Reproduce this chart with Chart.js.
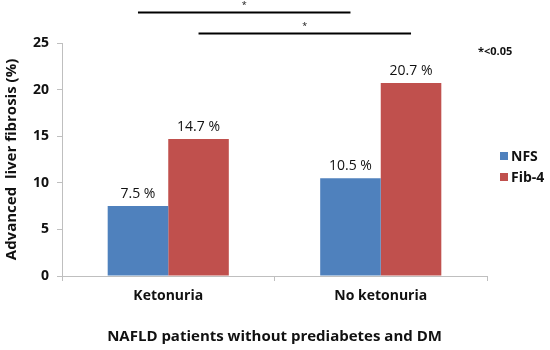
<!DOCTYPE html>
<html>
<head>
<meta charset="utf-8">
<script src="https://cdn.jsdelivr.net/npm/chart.js@4.4.0/dist/chart.umd.min.js"></script>
<style>
  body { margin: 0; background: #fff; }
  #wrap { width: 550px; height: 350px; }
</style>
</head>
<body>
<div id="wrap"><canvas id="grafico" width="550" height="350"></canvas></div>
<script>
const categorias = ["Ketonuria", "No ketonuria"];
const nfs = [7.5, 10.5];
const fib4 = [14.7, 20.7];
const seriesNomes = ["NFS", "Fib-4"];
const coresSeries = ["#4f81bd", "#c0504d"];
const yTicks = [0, 5, 10, 15, 20, 25];
// comparacoes significativas entre as duas categorias, altura em unidades do eixo
const comparacoes = [
  { serie: 0, nivel: 28.3 },
  { serie: 1, nivel: 26.05 }
];

const fonte = "'Open Sans', 'Noto Sans', sans-serif";

const rotulosPlugin = {
  id: "rotulos",
  afterDatasetsDraw(chart) {
    const ctx = chart.ctx;
    ctx.save();
    ctx.fillStyle = "#111";
    ctx.font = "14px " + fonte;
    ctx.textAlign = "center";
    ctx.textBaseline = "bottom";
    chart.data.datasets.forEach((ds, i) => {
      chart.getDatasetMeta(i).data.forEach((bar, j) => {
        ctx.fillText(ds.data[j].toFixed(1) + " %", bar.x, bar.y - 5);
      });
    });

    // linhas de significancia
    const y = chart.scales.y;
    ctx.strokeStyle = "#000";
    ctx.lineWidth = 2;
    comparacoes.forEach(c => {
      const barras = chart.getDatasetMeta(c.serie).data;
      const py = Math.round(y.getPixelForValue(c.nivel)) + 0.5;
      ctx.beginPath();
      ctx.moveTo(barras[0].x, py);
      ctx.lineTo(barras[1].x, py);
      ctx.stroke();
      ctx.font = "9px " + fonte;
      ctx.textBaseline = "middle";
      ctx.fillText("*", (barras[0].x + barras[1].x) / 2, py - 7);
    });

    // nota p-valor
    ctx.font = "bold 11px " + fonte;
    ctx.textAlign = "left";
    ctx.fillText("*<0.05", 478, 52);

    // legenda
    const area = chart.chartArea;
    ctx.font = "bold 14px " + fonte;
    seriesNomes.forEach((nome, i) => {
      const cy = 156 + i * 21;
      ctx.fillStyle = coresSeries[i];
      ctx.fillRect(area.right + 13, cy - 4, 8, 8);
      ctx.fillStyle = "#111";
      ctx.fillText(nome, area.right + 24, cy + 1);
    });
    ctx.restore();
  }
};

new Chart(document.getElementById("grafico"), {
  type: "bar",
  data: {
    labels: categorias,
    datasets: [
      { label: seriesNomes[0], data: nfs, backgroundColor: coresSeries[0] },
      { label: seriesNomes[1], data: fib4, backgroundColor: coresSeries[1] }
    ]
  },
  options: {
    responsive: false,
    animation: false,
    layout: { padding: { top: 43, right: 63, left: 0, bottom: 0 } },
    datasets: { bar: { barPercentage: 1, categoryPercentage: 0.57 } },
    plugins: { legend: { display: false }, tooltip: { enabled: false } },
    scales: {
      x: {
        grid: { drawOnChartArea: false, tickLength: 5, color: "#bfbfbf" },
        border: { color: "#bfbfbf" },
        ticks: { color: "#111", font: { family: fonte, size: 14, weight: "bold" }, padding: 7 },
        title: { display: true, text: "NAFLD patients without prediabetes and DM", color: "#111",
                 font: { family: fonte, size: 15, weight: "bold" }, padding: { top: 12 } },
        afterFit(s) { s.height = 74; }
      },
      y: {
        min: 0, max: 25,
        afterBuildTicks(s) { s.ticks = yTicks.map(v => ({ value: v })); },
        grid: { drawOnChartArea: false, tickLength: 5, color: "#bfbfbf" },
        border: { color: "#bfbfbf" },
        ticks: { color: "#111", font: { family: fonte, size: 14, weight: "bold" }, padding: 8 },
        title: { display: true, text: "Advanced  liver fibrosis (%)", color: "#111",
                 font: { family: fonte, size: 15, weight: "bold" }, padding: { top: 3, bottom: 0 } },
        afterFit(s) { s.width = 62; }
      }
    }
  },
  plugins: [rotulosPlugin]
});
</script>
</body>
</html>
